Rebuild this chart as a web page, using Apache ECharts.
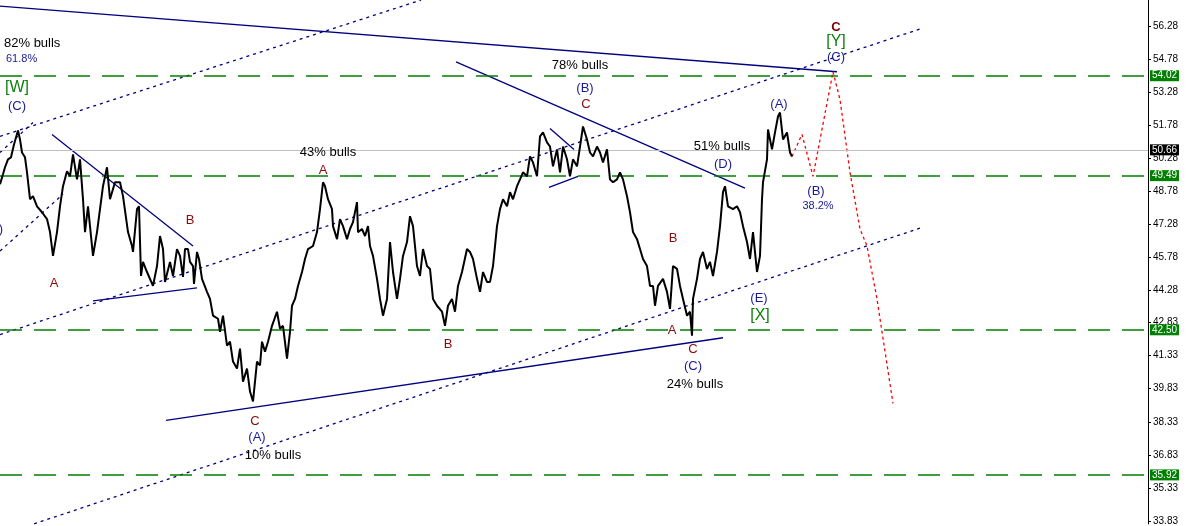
<!DOCTYPE html>
<html><head><meta charset="utf-8">
<script src="https://cdn.jsdelivr.net/npm/echarts@6/dist/echarts.min.js"></script>
<style>html,body{margin:0;padding:0;background:#fff}#c{width:1187px;height:526px}</style>
</head><body><div id="c"></div>
<script>
// ---- data (bar index, price) ----
const priceBars = [0,3,5,8,11,14,16,18,20,22,25,27,30,33,37,42,47,50,53,57,60,63,67,70,73,77,80,83,85,88,93,97,100,103,107,110,115,120,123,128,132,133,137,139,141,143,147,153,157,160,163,165,170,173,177,180,183,185,188,190,193,194,197,199,202,207,210,213,218,220,223,227,230,233,237,240,243,247,250,253,255,257,260,262,265,268,272,277,280,283,287,290,292,295,298,302,305,308,313,317,320,323,325,328,332,333,337,340,343,347,350,353,357,358,362,365,368,370,373,377,380,383,387,390,393,397,400,403,407,410,413,417,420,423,427,430,433,437,442,445,448,452,455,458,462,467,470,473,477,480,483,487,490,493,497,500,503,507,510,513,517,520,523,527,530,533,537,540,543,547,550,553,557,560,563,567,570,573,577,580,583,587,590,593,597,600,603,607,610,613,617,620,623,627,630,633,637,640,643,647,650,653,655,658,663,667,670,673,677,680,683,687,690,692,693,697,700,703,707,710,713,717,720,723,725,728,733,737,740,743,747,750,753,757,760,762,763,767,768,772,775,778,780,783,787,790,792];
const priceValues = [49.10,49.55,49.87,50.23,50.32,50.90,51.22,51.54,51.13,50.54,50.32,49.64,48.42,48.56,48.10,47.83,47.52,46.93,45.85,46.93,48.10,49.01,49.69,49.46,50.45,49.32,50.23,48.42,46.93,48.10,45.85,46.93,47.97,49.01,49.87,48.42,49.19,49.19,48.56,46.93,46.30,46.03,47.97,48.10,44.94,45.58,45.12,44.49,45.39,46.75,46.16,44.67,45.58,44.94,46.16,45.85,44.90,46.16,46.16,45.58,45.39,44.58,46.03,45.71,44.81,44.22,43.90,43.14,43.00,42.41,43.14,41.78,41.96,41.06,40.74,41.65,40.15,40.74,39.70,39.25,40.15,41.06,40.88,41.96,41.51,41.96,42.68,43.32,42.55,42.68,41.19,42.41,43.59,43.90,44.49,45.12,45.71,46.16,46.30,46.93,47.97,49.19,49.01,48.42,47.97,47.20,46.61,47.52,47.20,46.61,47.07,47.38,48.29,46.93,47.07,46.75,47.20,46.30,45.85,44.81,43.90,43.14,43.90,46.48,45.12,43.90,44.81,45.85,46.48,47.65,47.20,45.39,44.94,46.16,45.39,45.26,43.90,43.59,43.32,42.68,43.59,43.90,43.32,44.49,45.12,46.16,46.03,45.71,44.81,44.22,45.12,44.67,44.67,45.39,47.20,47.97,48.42,48.10,48.74,48.42,49.01,49.32,49.64,49.46,50.36,50.09,49.46,51.27,51.45,51.00,50.81,49.91,50.68,49.64,50.81,50.23,49.46,50.23,49.91,50.81,51.72,51.13,50.54,50.36,50.81,50.54,50.09,50.68,49.32,49.19,49.32,49.64,49.32,48.56,47.83,46.93,46.61,46.16,45.71,45.39,44.49,44.49,43.59,44.49,44.81,44.22,43.45,45.39,45.26,44.49,43.90,43.14,43.32,42.23,43.90,44.81,45.71,46.03,45.26,45.58,44.94,46.03,47.20,48.74,49.01,48.10,47.97,48.10,47.83,47.20,46.48,45.71,46.93,45.12,45.85,48.42,49.19,50.23,51.58,50.68,51.45,52.17,52.35,51.13,51.45,50.54,50.36];
const projectionBars = [792,802,813,833,840,850,860,867,877,882,893];
const projectionValues = [50.36,51.36,49.46,54.20,52.94,49.64,47.07,46.30,43.90,42.41,39.16];
const levelValues = [54.02, 49.49, 42.50, 35.92];
const lastPrice = 50.66;
const yTickValues = [56.28,54.78,53.28,51.78,50.28,48.78,47.28,45.78,44.28,42.83,41.33,39.83,38.33,36.83,35.33,33.83];
// trend lines: [bar1, price1, bar2, price2]
const solidTrendLines = [
  [0,57.18,837,54.20],
  [456,54.65,745,48.92],
  [550,51.63,574,50.68],
  [549,48.96,578,49.46],
  [52,51.36,193,46.30],
  [93,43.81,197,44.40],
  [166,38.39,723,42.14]
];
const dottedChannelLines = [
  [0,51.27,421,57.45],
  [0,42.28,920,56.14],
  [34,33.70,920,47.11],
  [0,46.07,63,48.65],
  [0,50.54,33,51.90]
];
// wave labels: [text, bar, price, kind]
const waveLabels = [
  ['82% bulls',4,55.50,'bullsL'],['61.8%',6,54.80,'fibL'],['[W]',17,53.48,'major'],['(C)',17,52.62,'wave'],
  ['(B)',3,47.07,'waveR'],
  ['A',54,44.58,'sub'],['B',190,47.47,'sub'],
  ['43% bulls',328,50.54,'bulls'],['A',323,49.73,'sub'],['B',448,41.83,'sub'],
  ['C',255,38.35,'sub'],['(A)',257,37.62,'wave'],['10% bulls',273,36.81,'bulls'],
  ['78% bulls',580,54.47,'bulls'],['(B)',585,53.43,'wave'],['C',586,52.71,'sub'],
  ['51% bulls',722,50.81,'bulls'],['(D)',723,50.00,'wave'],
  ['B',673,46.66,'sub'],['A',672,42.46,'sub'],['C',693,41.60,'sub'],['(C)',693,40.83,'wave'],['24% bulls',695,40.02,'bulls'],
  ['(E)',759,43.90,'wave'],['[X]',760,43.14,'major'],
  ['(B)',816,48.78,'wave'],['38.2%',818,48.10,'fib'],['(A)',779,52.71,'wave'],
  ['C',836,56.23,'top'],['[Y]',836,55.56,'major'],['(C)',836,54.83,'wave']
];

const FONT = 'Liberation Sans, Arial, sans-serif';
const kindStyle = {
  wave:{color:'#1a1a96',fontSize:13},
  waveR:{color:'#1a1a96',fontSize:13,align:'right'},
  sub:{color:'#8b0a0a',fontSize:13},
  bulls:{color:'#000000',fontSize:13},
  bullsL:{color:'#000000',fontSize:13,align:'left'},
  fib:{color:'#1a1a96',fontSize:11},
  fibL:{color:'#1a1a96',fontSize:11,align:'left'},
  major:{color:'#0f800f',fontSize:16},
  top:{color:'#7a0000',fontSize:13,fontWeight:'bold'}
};

const series = [];
series.push({
  type:'line', name:'price', data: priceBars.map((b,i)=>[b, priceValues[i]]),
  showSymbol:false, symbol:'none', lineStyle:{color:'#000', width:2}, z:5, silent:true,
  markLine:{
    silent:true, symbol:'none', animation:false,
    data: levelValues.map(v=>({yAxis:v, lineStyle:{color:'#008000', type:[22,12], width:1.5},
      label:{show:true, position:'end', distance:2, formatter:v.toFixed(2), color:'#fff', backgroundColor:'#008000', padding:[1,2,0,2], fontSize:10, fontFamily:FONT}}))
      .concat([{yAxis:lastPrice, lineStyle:{color:'#c0c0c0', type:'solid', width:1},
      label:{show:true, position:'end', distance:2, formatter:lastPrice.toFixed(2), color:'#fff', backgroundColor:'#000', padding:[1,2,0,2], fontSize:10, fontFamily:FONT}}])
  }
});
series.push({
  type:'line', data: projectionBars.map((b,i)=>[b, projectionValues[i]]), showSymbol:false, symbol:'none',
  lineStyle:{color:'#ff0000', width:1.3, type:[3,3]}, z:4, silent:true
});
solidTrendLines.forEach(l=>series.push({
  type:'line', data:[[l[0],l[1]],[l[2],l[3]]], showSymbol:false, symbol:'none',
  lineStyle:{color:'#00007f', width:1.3}, z:3, silent:true
}));
dottedChannelLines.forEach(l=>series.push({
  type:'line', data:[[l[0],l[1]],[l[2],l[3]]], showSymbol:false, symbol:'none',
  lineStyle:{color:'#00007f', width:1.3, type:[3,4]}, z:3, silent:true
}));
series.push({
  type:'scatter', symbolSize:1, itemStyle:{color:'#ffffff', opacity:1}, clip:false, silent:true, z:6,
  data: waveLabels.map(w=>({value:[w[1],w[2]], label:Object.assign({show:true, position:'inside', formatter:w[0], fontFamily:FONT, opacity:1, textBorderWidth:0, textBorderColor:'transparent', textShadowBlur:0}, kindStyle[w[3]])}))
});

const chart = echarts.init(document.getElementById('c'), null, {renderer:'canvas'});
chart.setOption({
  animation:false,
  backgroundColor:'#fff',
  grid:{left:0, right:39, top:0, bottom:0, containLabel:false},
  xAxis:{type:'value', min:0, max:1148, show:false},
  yAxis:{type:'value', position:'right', min:33.696, max:57.454, scale:true,
    splitLine:{show:false},
    axisLine:{show:true, onZero:false, lineStyle:{color:'#000', width:1}},
    axisTick:{show:true, length:3, customValues:yTickValues, lineStyle:{color:'#000'}},
    axisLabel:{show:true, customValues:yTickValues, margin:5, fontSize:10, color:'#000', fontFamily:FONT,
      formatter:v=>v.toFixed(2)}
  },
  series: series
});
</script></body></html>
